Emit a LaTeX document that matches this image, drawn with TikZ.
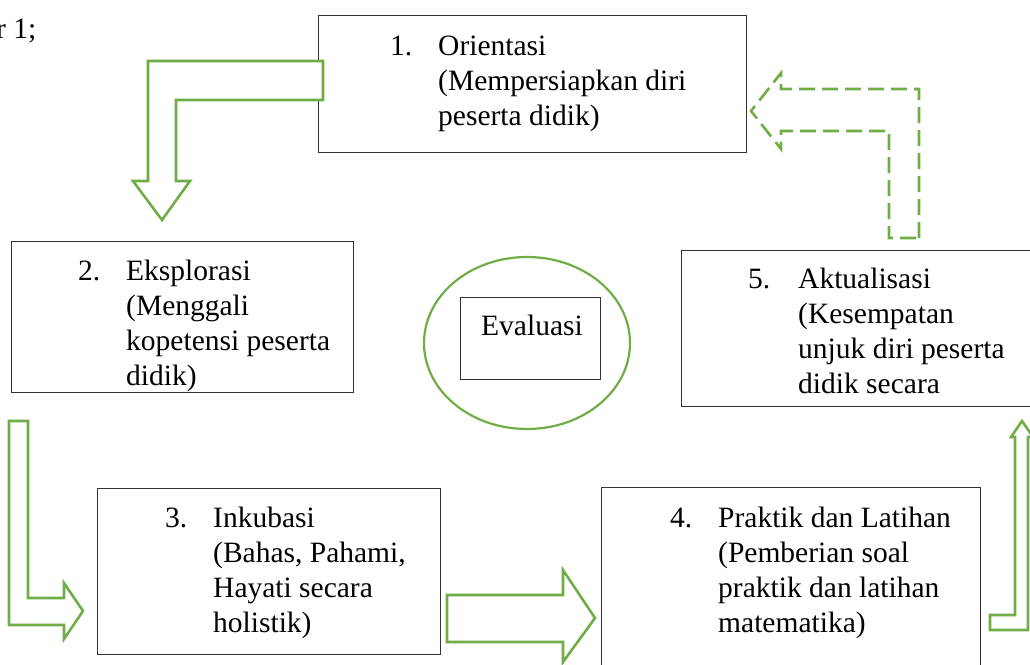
\documentclass[tikz,border=0pt]{standalone}
\usepackage{fontspec}
\setmainfont{Liberation Serif}
\usepackage{xcolor}
\usepackage{tikz}
\usetikzlibrary{shapes.geometric}
\definecolor{ink}{HTML}{333333}
\definecolor{leaf}{HTML}{70AD47}
\tikzset{
  stepbox/.style={draw=ink, line width=1.4pt, fill=white, anchor=north west, inner sep=0pt},
  blockarrow/.style={draw=leaf, line width=2.6pt, fill=white, line join=miter},
  steptext/.style={anchor=north west, align=left, inner sep=0pt}
}

\begin{document}
\begin{tikzpicture}[x=1pt, y=-1pt, font=\fontsize{29.5}{35}\selectfont]
  \def\lh{35}
  \useasboundingbox (0,0) rectangle (1030,664);
  \clip (0,0) rectangle (1030,664);
  \node[anchor=base west, inner sep=0pt] (fig) at (-4,38) {r 1;};
  \foreach \nm/\xa/\ya/\xb/\yb in {
      1/318/15/746/152, 2/11/241/353/392, 3/97/488/440/654,
      4/601/487/980/700, 5/681/250/1060/406
  } {
    \node[stepbox, minimum width={(\xb-\xa)*1pt}, minimum height={(\yb-\ya)*1pt}] (b\nm) at (\xa,\ya) {};
  }
  \node[draw=leaf, line width=2.2pt, ellipse, inner sep=0pt, minimum width=206pt, minimum height=172pt] (ring) at (527,343) {};
  \node[stepbox, minimum width=140pt, minimum height=82pt] (evalbox) at (460,297) {};
  \node[anchor=base west, inner sep=0pt] (evaltext) at (481,335) {Evaluasi};
  \draw[blockarrow] (323,61) -- (148,61) -- (148,181) -- (133,181) -- (162,220) -- (190,181)
    -- (176,181) -- (176,100) -- (323,100) -- cycle;
  \draw[blockarrow] (9,421) -- (28,421) -- (28,598) -- (64,598) -- (64,583) -- (83,611)
    -- (64,639) -- (64,625) -- (9,625) -- cycle;
  \draw[blockarrow] (447,595) -- (563,595) -- (563,570) -- (595,618) -- (563,662)
    -- (563,642) -- (447,642) -- cycle;
  \draw[blockarrow] (990,615) -- (1015,615) -- (1015,437) -- (1011,437) -- (1022,421)
    -- (1033,437) -- (1028,437) -- (1028,630) -- (990,630) -- cycle;
  \draw[blockarrow, dash pattern=on 16pt off 7pt] (919,238) -- (919,89) -- (781,89) -- (781,73)
    -- (751,111) -- (781,149) -- (781,131) -- (889,131) -- (889,238) -- cycle;
  \foreach \nm/\xn/\yb in {1/390/55, 2/78/280, 3/165/527, 4/670/527, 5/748/288} {
    \node[anchor=base west, inner sep=0pt] (n\nm) at (\xn,\yb) {\nm.};
  }
  \node[steptext] (t1) at (438,55-0.7*\lh) {\strut Orientasi\\(Mempersiapkan diri\\peserta didik)};
  \begin{scope}
    \clip (b2.north west) rectangle (b2.south east);
    \node[steptext] (t2) at (126,280-0.7*\lh) {\strut Eksplorasi\\(Menggali\\kopetensi peserta\\didik)};
  \end{scope}
  \node[steptext] (t3) at (213,527-0.7*\lh) {\strut Inkubasi\\(Bahas, Pahami,\\Hayati secara\\holistik)};
  \node[steptext] (t4) at (718,527-0.7*\lh) {\strut Praktik dan Latihan\\(Pemberian soal\\praktik dan latihan\\matematika)};
  \node[steptext] (t5) at (798,288-0.7*\lh) {\strut Aktualisasi\\(Kesempatan\\unjuk diri peserta\\didik secara};
\end{tikzpicture}
\end{document}
